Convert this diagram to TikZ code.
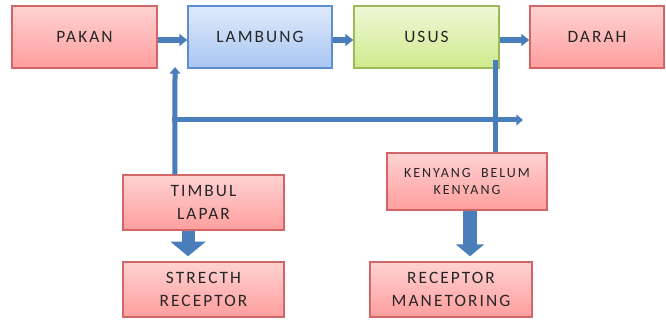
\documentclass[tikz,border=0pt]{standalone}
\usepackage{fontspec}
\setmainfont[LetterSpace=12]{Carlito}
\usetikzlibrary{arrows.meta,shadows}
\definecolor{arrowblue}{HTML}{4A7EBB}
\definecolor{redtop}{HTML}{FFD2D2}
\definecolor{redbot}{HTML}{FF9E9E}
\definecolor{redline}{HTML}{D26565}
\definecolor{bluetop}{HTML}{DFEAFB}
\definecolor{bluebot}{HTML}{A9C6F2}
\definecolor{blueline}{HTML}{5B8ED6}
\definecolor{greentop}{HTML}{EFF8D8}
\definecolor{greenbot}{HTML}{CEEA8C}
\definecolor{greenline}{HTML}{9BBB59}
\definecolor{txt}{HTML}{262626}
\tikzset{
  box/.style={rectangle, draw, line width=1.1pt, align=center, text=txt,
    font=\fontsize{13}{17}\selectfont, inner sep=0pt,
    drop shadow={shadow xshift=0.8pt, shadow yshift=-0.8pt, opacity=0.25}},
  redbox/.style={box, draw=redline, top color=redtop, bottom color=redbot},
  bluebox/.style={box, draw=blueline, top color=bluetop, bottom color=bluebot},
  greenbox/.style={box, draw=greenline, top color=greentop, bottom color=greenbot},
  flow/.style={draw=arrowblue, line width=4.5pt, -{Triangle[width=9pt,length=6pt]}},
  thinflow/.style={draw=arrowblue, line width=3.75pt, -{Triangle[width=8pt,length=5pt]}},
  plainline/.style={draw=arrowblue, line width=3.75pt},
  blockarrow/.style={draw=arrowblue, -{Triangle[width=26pt,length=11pt]}},
}
\begin{document}
\begin{tikzpicture}[x=0.75pt,y=-0.75pt]
\useasboundingbox (0,0) rectangle (666,320);
% top row
\node[redbox, minimum width=108.75pt, minimum height=46.5pt] (pakan) at (84.5,37) {PAKAN};
\node[bluebox, minimum width=108pt, minimum height=46.5pt] (lambung) at (260,37) {LAMBUNG};
\node[greenbox, minimum width=108.75pt, minimum height=46.5pt] (usus) at (426.5,37) {USUS};
\node[redbox, minimum width=100.5pt, minimum height=46.5pt] (darah) at (597,37) {DARAH};
% lower boxes
\node[redbox, minimum width=120.75pt, minimum height=41.25pt] (timbul) at (203.5,202.5) {TIMBUL\\LAPAR};
\node[redbox, minimum width=120.75pt, minimum height=41.25pt] (strecth) at (203.5,289.5) {STRECTH\\RECEPTOR};
\node[redbox, minimum width=120pt, minimum height=42.75pt, font=\fontsize{10.5}{13}\selectfont\addfontfeatures{LetterSpace=14}] (kenyang) at (467,181.5) {KENYANG\ \ BELUM\\KENYANG};
\node[redbox, minimum width=121.5pt, minimum height=41.25pt] (receptor) at (451,289.5) {RECEPTOR\\MANETORING};
% coordinates
\coordinate (upend) at (175,67);
\coordinate (hstart) at (172,120);
\coordinate (hend) at (523,120);
\coordinate (usdown) at (495,60);
% top flow
\draw[flow] ([yshift=-2.25pt]pakan.east) -- ([yshift=-2.25pt]lambung.west);
\draw[flow] ([yshift=-2.25pt]lambung.east) -- ([yshift=-2.25pt]usus.west);
\draw[flow] ([yshift=-2.25pt]usus.east) -- ([yshift=-2.25pt]darah.west);
% vertical and horizontal lines
\draw[thinflow] ([xshift=-21.4pt]timbul.north) -- (upend);
\draw[thinflow] (hstart) -- (hend);
\draw[plainline] (usdown) -- ([xshift=21pt]kenyang.north);
% block arrows
\draw[blockarrow, line width=9.75pt, shorten >=3.75pt] ([xshift=-11.6pt]timbul.south) -- ([xshift=-11.6pt]strecth.north);
\draw[draw=arrowblue, line width=10.5pt, -{Triangle[width=21pt,length=9pt]}, shorten >=3.75pt] ([xshift=2.25pt]kenyang.south) -- ([xshift=2.25pt]kenyang.south |- receptor.north);
\end{tikzpicture}
\end{document}
